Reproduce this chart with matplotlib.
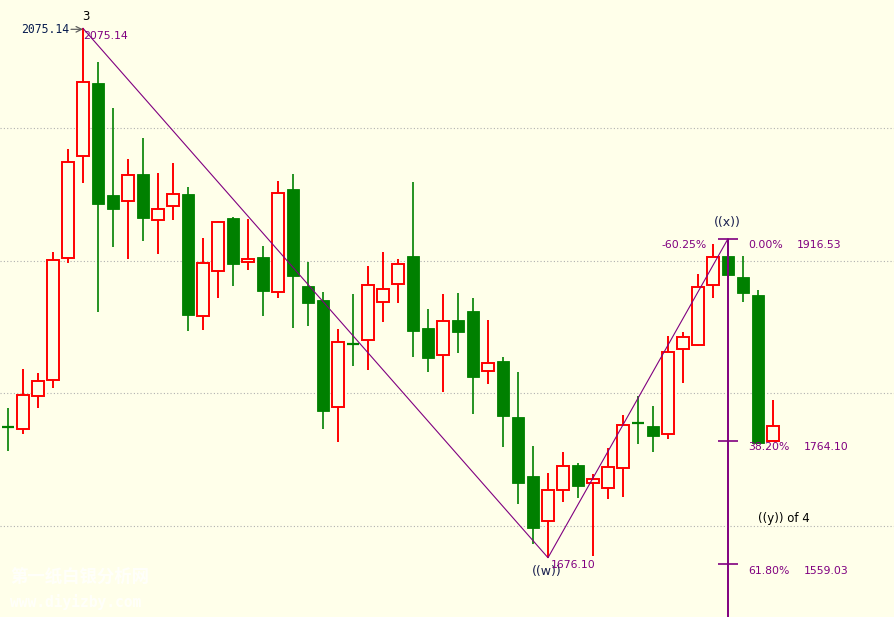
import matplotlib
matplotlib.use('Agg')
import matplotlib.pyplot as plt
from matplotlib.patches import Rectangle

# ---- data ----
opens = [1774.7, 1773.3, 1798.2, 1809.8, 1901.8, 1978.7, 2033.9, 1949.5, 1945.2, 1965.3,
         1930.4, 1941.0, 1950.3, 1858.1, 1892.0, 1932.2, 1899.2, 1902.8, 1876.2, 1954.0,
         1880.9, 1870.4, 1789.5, 1837.5, 1840.0, 1868.6, 1882.2, 1903.5, 1849.2, 1828.7,
         1855.3, 1862.1, 1816.6, 1824.4, 1782.2, 1737.7, 1703.5, 1726.9, 1746.0, 1732.2,
         1728.4, 1743.5, 1777.5, 1775.4, 1769.1, 1833.2, 1836.2, 1881.4, 1903.5, 1887.7,
         1874.1, 1764.1]
highs = [1788.9, 1818.3, 1815.3, 1906.3, 1984.2, 2075.14, 2049.7, 2015.1, 1976.4, 1992.5,
         1966.1, 1973.6, 1955.5, 1917.1, 1929.9, 1932.9, 1931.6, 1911.1, 1960.0, 1965.3,
         1899.0, 1876.4, 1848.5, 1874.9, 1896.0, 1906.5, 1901.3, 1959.3, 1863.6, 1874.9,
         1875.6, 1871.9, 1855.3, 1827.4, 1816.1, 1760.3, 1740.0, 1755.8, 1747.5, 1739.2,
         1758.8, 1783.4, 1798.0, 1790.5, 1843.2, 1846.2, 1890.2, 1912.8, 1916.53, 1903.5,
         1877.9, 1795.0]
lows = [1756.5, 1769.6, 1789.2, 1804.2, 1898.5, 1958.8, 1861.5, 1910.5, 1901.3, 1915.0,
        1905.3, 1930.9, 1847.2, 1848.0, 1872.1, 1881.1, 1893.2, 1858.5, 1872.1, 1849.5,
        1851.0, 1773.3, 1763.5, 1820.8, 1817.8, 1854.0, 1868.3, 1827.6, 1816.3, 1801.2,
        1830.6, 1784.6, 1806.7, 1759.8, 1716.8, 1686.2, 1676.10, 1718.3, 1720.9, 1677.6,
        1720.6, 1722.1, 1762.0, 1756.0, 1765.4, 1808.0, 1836.0, 1872.1, 1887.7, 1869.1,
        1762.0, 1764.1]
closes = [1774.5, 1798.5, 1809.1, 1900.3, 1974.1, 2034.7, 1942.9, 1938.9, 1964.3, 1932.4,
          1938.7, 1950.0, 1859.3, 1898.0, 1928.9, 1897.7, 1901.0, 1877.4, 1951.0, 1888.7,
          1868.3, 1786.9, 1838.5, 1837.3, 1881.4, 1878.4, 1897.3, 1847.2, 1826.9, 1854.3,
          1846.5, 1812.5, 1822.6, 1783.1, 1732.6, 1698.7, 1726.9, 1745.0, 1730.4, 1735.2,
          1744.2, 1775.9, 1777.3, 1768.1, 1830.9, 1842.5, 1879.9, 1902.5, 1889.4, 1875.9,
          1762.6, 1775.2]

grid_levels = [2000, 1900, 1800, 1700]

zigzag_idx = [5, 36, 48]
zigzag_price = [2075.14, 1676.10, 1916.53]

fib_idx = 48
fib_levels = [1916.53, 1764.10, 1671.0]
fib_pct_labels = ["0.00%", "38.20%", "61.80%"]
fib_price_labels = ["1916.53", "1764.10", "1559.03"]

# ---- figure ----
W, H, DPI = 894, 617, 100
BG = '#FFFFEA'
RED = '#FF0000'
GREEN = '#008000'
PURPLE = '#800080'

fig = plt.figure(figsize=(W / DPI, H / DPI), dpi=DPI)
fig.patch.set_facecolor(BG)
ax = fig.add_axes([0, 0, 1, 1])
ax.set_facecolor(BG)
ax.set_xlim(-0.533, 59.067)
ax.set_ylim(1631.4, 2096.5)
ax.axis('off')

for g in grid_levels:
    ax.axhline(g, color='#B0B0B0', lw=0.8, ls=(0, (1, 2)), zorder=0)

for i, (o, h, l, c) in enumerate(zip(opens, highs, lows, closes)):
    up = c >= o
    col = RED if up else GREEN
    ax.vlines(i, l, h, color=col, lw=1.4 if up else 1.2, zorder=2)
    if abs(c - o) < 1.0:
        ax.hlines(o, i - 0.43, i + 0.43, color=col, lw=1.6, zorder=3)
    elif up:
        ax.add_patch(Rectangle((i - 0.37, o), 0.74, c - o, facecolor=BG,
                               edgecolor=RED, lw=1.4, zorder=3))
    else:
        ax.add_patch(Rectangle((i - 0.42, c), 0.84, o - c, facecolor=GREEN,
                               edgecolor=GREEN, lw=0.6, zorder=3))

# zigzag
ax.plot(zigzag_idx, zigzag_price, color=PURPLE, lw=0.8, zorder=5)

# fib vertical
ax.vlines(fib_idx, 1631.4, fib_levels[0], color=PURPLE, lw=1.4, zorder=5)
for lv in fib_levels:
    ax.hlines(lv, fib_idx - 0.67, fib_idx + 0.67, color=PURPLE, lw=1.2, zorder=5)

FS = 7.8
fam = 'DejaVu Sans'
ax.text(49.33, 1911.8, fib_pct_labels[0], color=PURPLE, fontsize=FS, family=fam, va='center', ha='left')
ax.text(52.6, 1911.8, fib_price_labels[0], color=PURPLE, fontsize=FS, family=fam, va='center', ha='left')
ax.text(49.33, 1759.5, fib_pct_labels[1], color=PURPLE, fontsize=FS, family=fam, va='center', ha='left')
ax.text(53.07, 1759.5, fib_price_labels[1], color=PURPLE, fontsize=FS, family=fam, va='center', ha='left')
ax.text(49.33, 1666.1, fib_pct_labels[2], color=PURPLE, fontsize=FS, family=fam, va='center', ha='left')
ax.text(53.07, 1666.1, fib_price_labels[2], color=PURPLE, fontsize=FS, family=fam, va='center', ha='left')
ax.text(46.6, 1911.8, "-60.25%", color=PURPLE, fontsize=FS, family=fam, va='center', ha='right')

ax.text(47.93, 1929.1, "((x))", color='#1A2050', fontsize=9, family=fam, va='center', ha='center')
ax.text(35.9, 1665.6, "((w))", color='#1A2050', fontsize=9, family=fam, va='center', ha='center')
ax.text(36.2, 1670.8, "1676.10", color=PURPLE, fontsize=FS, family=fam, va='center', ha='left')
ax.text(50.0, 1705.3, "((y)) of 4", color='black', fontsize=8.5, family=fam, va='center', ha='left')

ax.text(5.0, 2069.3, "2075.14", color=PURPLE, fontsize=FS, family=fam, va='center', ha='left')
ax.text(5.2, 2084.4, "3", color='black', fontsize=8.5, family=fam, va='center', ha='center')
ax.text(0.87, 2074.4, "2075.14", color='#0A1E50', fontsize=8.3, family='DejaVu Sans Mono', va='center', ha='left')
ax.annotate("", xy=(5.0, 2074.4), xytext=(4.2, 2074.4),
            arrowprops=dict(arrowstyle='->', color='#606060', lw=0.9, shrinkA=0, shrinkB=0))

# watermark
ax.text(0.13, 1661.7, "第一纸白银分析网", color='white', alpha=0.8, fontsize=12.5,
        family=['Noto Sans CJK SC', 'DejaVu Sans'], fontweight='bold', va='center', ha='left', zorder=1)
ax.text(0.13, 1643.0, "www.diyizby.com", color='white', alpha=0.8, fontsize=10.5,
        family='DejaVu Sans Mono', fontweight='bold', va='center', ha='left', zorder=1)

fig.savefig('out.png', dpi=DPI, facecolor=BG)
